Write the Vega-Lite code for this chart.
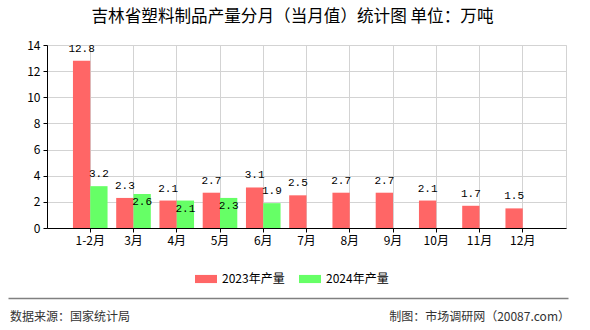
{
  "$schema": "https://vega.github.io/schema/vega-lite/v6.json",
  "background": "white",
  "padding": {"left": 10, "top": 8, "right": 0, "bottom": 0},
  "config": {"font": "Noto Sans CJK SC", "view": {"stroke": null}},
  "spacing": 51,
  "vconcat": [
    {
      "width": 519,
      "height": 183,
      "view": {"stroke": "#d3d3d3"},
      "title": {
        "text": "吉林省塑料制品产量分月（当月值）统计图 单位：万吨",
        "font": "Noto Sans CJK SC",
        "fontSize": 16.6,
        "fontWeight": "normal",
        "color": "#000000",
        "anchor": "middle",
        "frame": "group",
        "dx": -14,
        "offset": 13
      },
      "data": {
        "values": [
          {"month": "1-2月", "series": "2023年产量", "value": 12.8},
          {"month": "3月", "series": "2023年产量", "value": 2.3},
          {"month": "4月", "series": "2023年产量", "value": 2.1},
          {"month": "5月", "series": "2023年产量", "value": 2.7},
          {"month": "6月", "series": "2023年产量", "value": 3.1},
          {"month": "7月", "series": "2023年产量", "value": 2.5},
          {"month": "8月", "series": "2023年产量", "value": 2.7},
          {"month": "9月", "series": "2023年产量", "value": 2.7},
          {"month": "10月", "series": "2023年产量", "value": 2.1},
          {"month": "11月", "series": "2023年产量", "value": 1.7},
          {"month": "12月", "series": "2023年产量", "value": 1.5},
          {"month": "1-2月", "series": "2024年产量", "value": 3.2},
          {"month": "3月", "series": "2024年产量", "value": 2.6},
          {"month": "4月", "series": "2024年产量", "value": 2.1},
          {"month": "5月", "series": "2024年产量", "value": 2.3},
          {"month": "6月", "series": "2024年产量", "value": 1.9}
        ]
      },
      "encoding": {
        "x": {
          "field": "month",
          "type": "nominal",
          "sort": ["1-2月", "3月", "4月", "5月", "6月", "7月", "8月", "9月", "10月", "11月", "12月"],
          "scale": {"paddingInner": 0.2, "paddingOuter": 0.6},
          "axis": {
            "title": null,
            "labelAngle": 0,
            "labelFontSize": 12,
            "labelColor": "#000000",
            "labelPadding": 3,
            "tickSize": 4,
            "tickColor": "#000000",
            "domainColor": "#000000",
            "grid": true,
            "gridColor": "#d3d3d3",
            "bandPosition": 0.5
          }
        },
        "xOffset": {"field": "series", "type": "nominal", "scale": {"paddingInner": 0, "paddingOuter": 0}},
        "y": {
          "field": "value",
          "type": "quantitative",
          "scale": {"domain": [0, 14], "nice": false},
          "axis": {
            "title": null,
            "values": [0, 2, 4, 6, 8, 10, 12, 14],
            "labelFontSize": 12,
            "labelColor": "#000000",
            "labelPadding": 3,
            "tickSize": 4,
            "tickColor": "#000000",
            "domainColor": "#000000",
            "gridColor": "#d3d3d3"
          }
        }
      },
      "layer": [
        {
          "mark": {"type": "bar"},
          "encoding": {
            "color": {
              "field": "series",
              "type": "nominal",
              "scale": {"domain": ["2023年产量", "2024年产量"], "range": ["#ff6666", "#66ff66"]},
              "legend": {
                "title": null,
                "orient": "none",
                "direction": "horizontal",
                "legendX": 148,
                "legendY": 223,
                "padding": 0,
                "symbolType": "M-1,-0.37H1V0.37H-1Z",
                "symbolSize": 484,
                "symbolStrokeWidth": 0,
                "labelFontSize": 12,
                "labelColor": "#000000",
                "labelOffset": 5,
                "columnPadding": 14
              }
            }
          }
        },
        {
          "transform": [{"filter": "datum.series == '2023年产量' || datum.month == '1-2月' || datum.month == '6月'"}],
          "mark": {"type": "text", "dy": -12, "font": "Liberation Mono", "fontSize": 11, "color": "#000000"},
          "encoding": {"text": {"field": "value", "type": "quantitative", "format": ".1f"}}
        },
        {
          "transform": [{"filter": "datum.series == '2024年产量' && datum.month != '1-2月' && datum.month != '6月'"}],
          "mark": {"type": "text", "dy": 8, "font": "Liberation Mono", "fontSize": 11, "color": "#000000"},
          "encoding": {"text": {"field": "value", "type": "quantitative", "format": ".1f"}}
        }
      ]
    },
    {
      "width": 519,
      "height": 30,
      "data": {
        "values": [
          {"side": "left", "text": "数据来源：国家统计局"},
          {"side": "right", "text": "制图：市场调研网（20087.com）"}
        ]
      },
      "encoding": {
        "x": {
          "field": "side",
          "type": "nominal",
          "scale": {"type": "point", "domain": ["left", "right"], "range": [-39, 521], "padding": 0},
          "axis": {"orient": "top", "title": null, "labels": false, "ticks": false, "grid": false, "domainColor": "#808080", "domainWidth": 1.5}
        }
      },
      "layer": [
        {
          "transform": [{"filter": "datum.side == 'left'"}],
          "mark": {"type": "text", "align": "left", "fontSize": 12, "color": "#333333", "dy": 4, "dx": 2},
          "encoding": {"text": {"field": "text"}}
        },
        {
          "transform": [{"filter": "datum.side == 'right'"}],
          "mark": {"type": "text", "align": "right", "fontSize": 12, "color": "#333333", "dy": 4, "dx": 2},
          "encoding": {"text": {"field": "text"}}
        }
      ]
    }
  ]
}
